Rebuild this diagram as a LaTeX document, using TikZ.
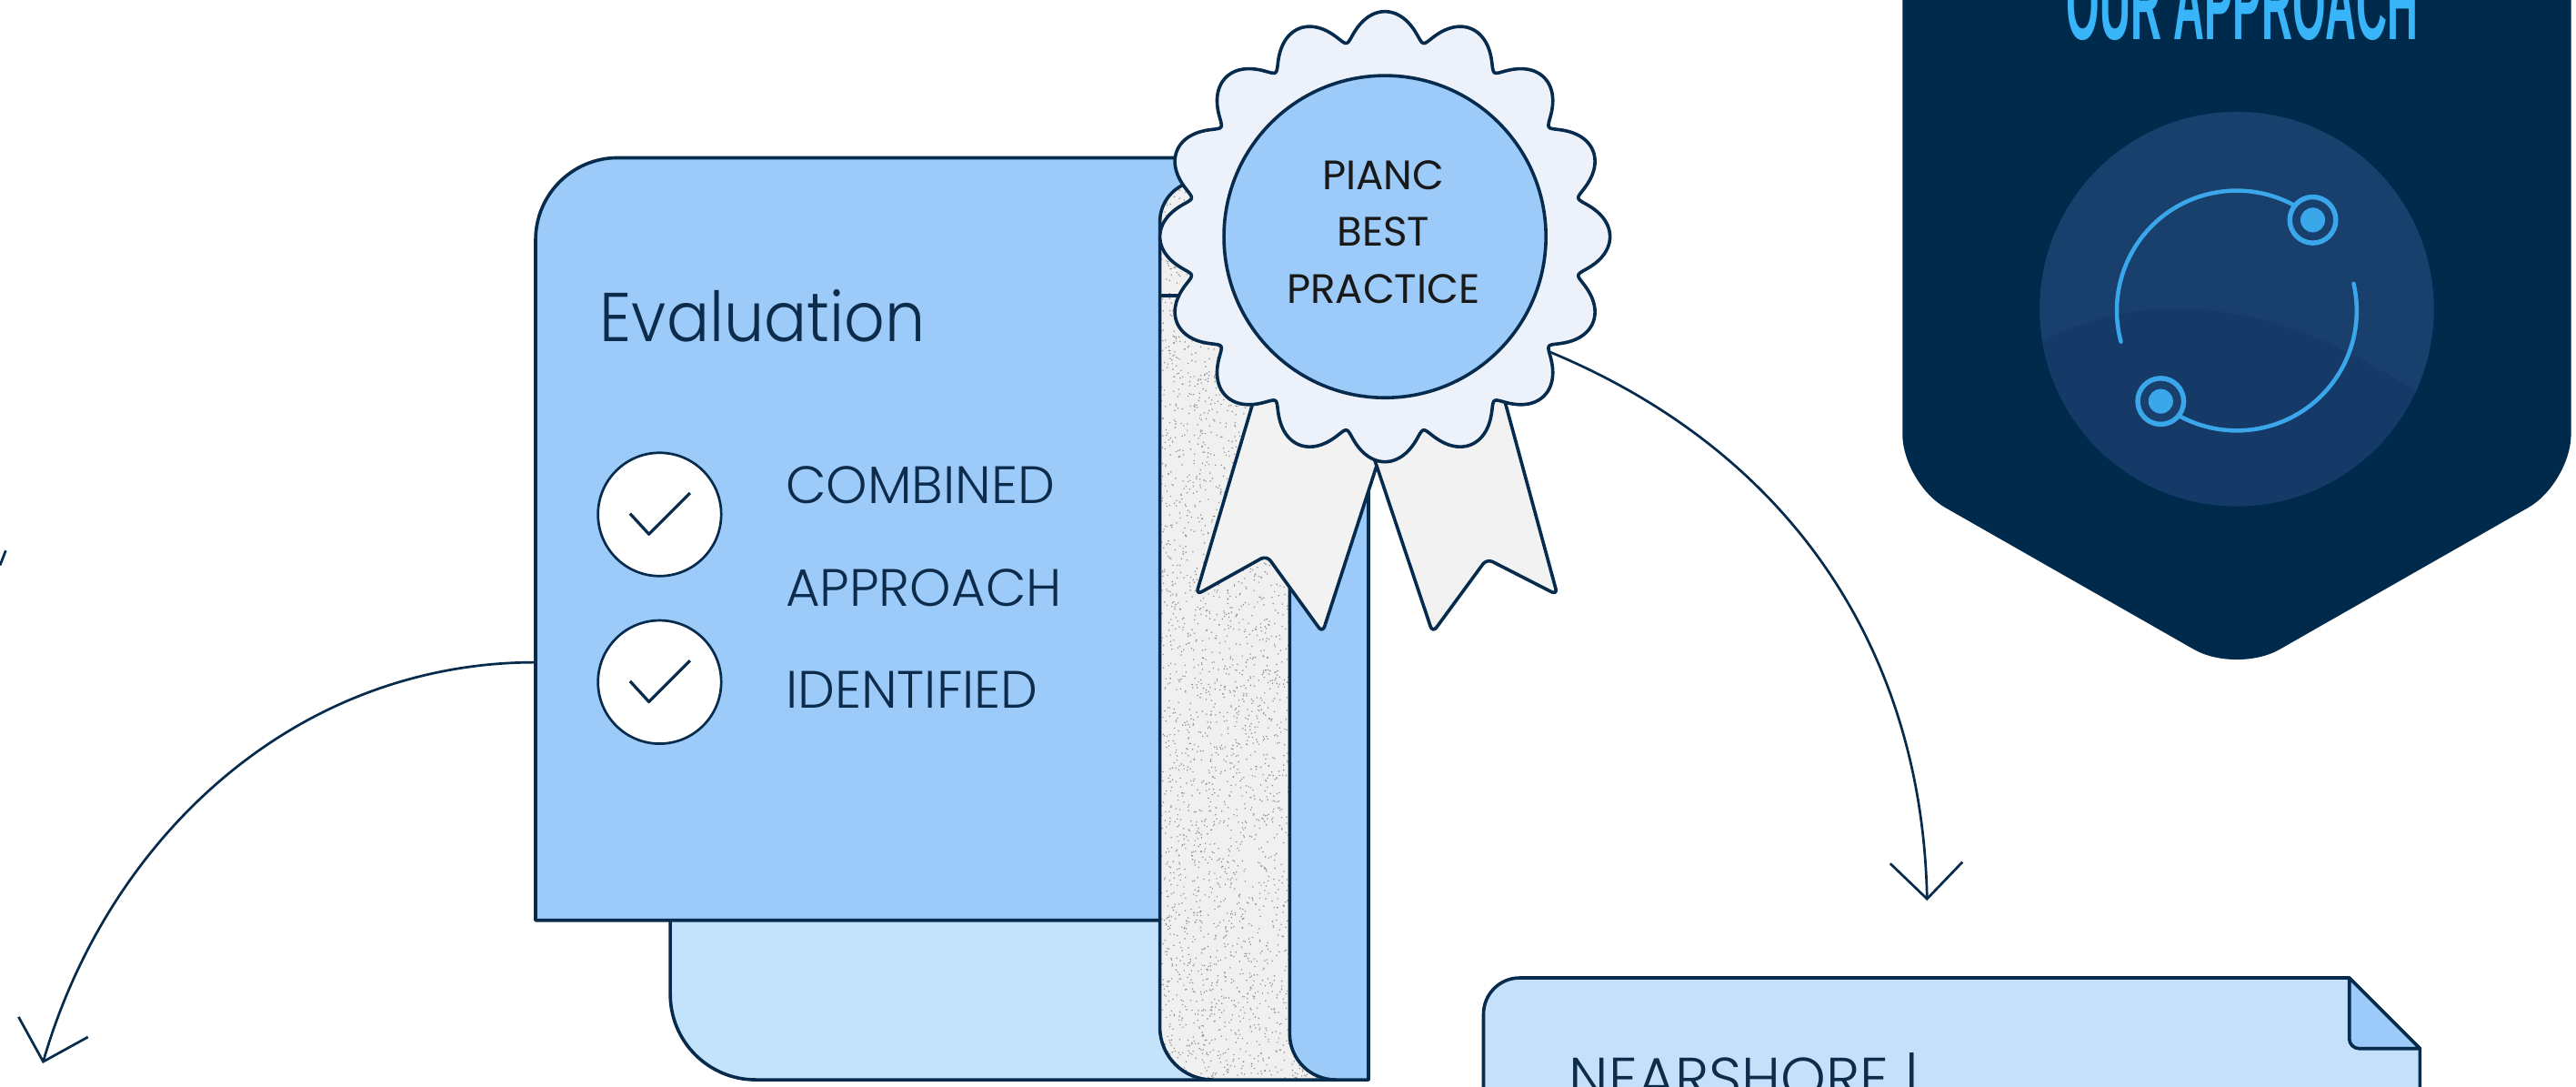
\documentclass[tikz,border=0pt]{standalone}
\usepackage{fontspec}
\setmainfont{Poppins}
\newfontfamily\geolight{Poppins Light}
\newfontfamily\headfont{Liberation Sans}
\usetikzlibrary{arrows.meta,calc}

\definecolor{navy}{HTML}{062B4D}
\definecolor{inknavy}{HTML}{0D2B4B}
\definecolor{cardblue}{HTML}{9DCBF9}
\definecolor{paleblue}{HTML}{C3E2FB}
\definecolor{notebg}{HTML}{C5E0FA}
\definecolor{sealbg}{HTML}{EDF1F9}
\definecolor{ribbon}{HTML}{F2F2F2}
\definecolor{paper}{HTML}{F0F0F0}
\definecolor{speck}{HTML}{8C8C8C}
\definecolor{shieldnavy}{HTML}{002A4B}
\definecolor{shieldcircle}{HTML}{193F6D}
\definecolor{shieldhill}{HTML}{143763}
\definecolor{iconcyan}{HTML}{3BA7EB}
\definecolor{titlecyan}{HTML}{38B4F8}

\tikzset{
  outline/.style={draw=navy, line width=2pt},
  conn/.style={draw=navy, line width=1.5pt, -{Straight Barb[length=22pt,width=44pt]}},
  checkdisc/.style={circle, draw=navy, line width=1.5pt, fill=white, minimum size=75pt, inner sep=0pt},
  tick/.style={draw=navy, line width=1.8pt},
  cardtext/.style={anchor=base west, inner sep=0pt, text=inknavy, font=\geolight\fontsize{32pt}{32pt}\selectfont},
  sealtext/.style={anchor=base, inner sep=0pt, text=black!90, font=\fontsize{25pt}{25pt}\selectfont},
  icon/.style={draw=iconcyan, line width=2.5pt, line cap=round},
}

\begin{document}
\begin{tikzpicture}[x=1pt, y=-1pt, line join=round]
\useasboundingbox (0,0) rectangle (1568,661.4);
\clip (0,0) rectangle (1568,661.4);

% ---------- shield with the cycle icon ----------
\fill[shieldnavy, rounded corners=30pt]
  (1158,-80) -- (1158,294) -- (1361.5,410) -- (1565,294) -- (1565,-80) -- cycle;
\fill[shieldcircle] (1361.5,188) circle (120pt);
\begin{scope}
  \clip (1361.5,188) circle (120pt);
  \fill[shieldhill, opacity=0.5] (1230,214) .. controls (1275,188) and (1330,178) .. (1395,200)
    .. controls (1435,214) and (1465,235) .. (1500,256) -- (1500,320) -- (1230,320) -- cycle;
\end{scope}
\node[anchor=base, inner sep=0pt, text=titlecyan] (title) at (1365,24)
  {\resizebox{214pt}{44pt}{\headfont\bfseries OUR APPROACH}};
\begin{scope}[shift={(1361.5,189)}]
  \draw[icon] (195:73pt) arc[start angle=195, end angle=62, radius=73pt];
  \draw[icon] (13:73pt) arc[start angle=13, end angle=-118, radius=73pt];
  \draw[draw=iconcyan, line width=3pt, fill=shieldcircle] (50:72pt) circle (14pt);
  \fill[iconcyan] (50:72pt) circle (7.5pt);
  \draw[draw=iconcyan, line width=3pt, fill=shieldcircle] (230:72pt) circle (14pt);
  \fill[iconcyan] (230:72pt) circle (7.5pt);
\end{scope}

% ---------- folder: back page, front card, paper edge, spine ----------
\filldraw[outline, fill=paleblue]
  (760,540) -- (408,540) -- (408,605) arc[start angle=180, end angle=270, radius=52pt]
  -- (760,657) -- cycle;
\filldraw[outline, fill=cardblue]
  (760,560) -- (326,560) -- (326,146) arc[start angle=180, end angle=90, radius=50pt]
  -- (760,96) -- cycle;

\def\paperpath{(833,657) -- (738,657) arc[start angle=270, end angle=180, radius=32pt]
  -- (706,135) arc[start angle=180, end angle=90, radius=25pt] -- (833,110) -- cycle}
\fill[paper] \paperpath;
\begin{scope}
  \clip \paperpath;
  \pgfmathsetseed{42}
  \foreach \i in {1,...,5200}{
    \fill[speck] ({706+127*rnd},{110+547*rnd}) circle (0.45pt);
  }
\end{scope}
\draw[outline] \paperpath;
\draw[outline] (706,180) -- (760,180);

\filldraw[outline, fill=cardblue]
  (833,250) -- (785,250) -- (785,629) arc[start angle=180, end angle=270, radius=28pt]
  -- (833,657) -- cycle;

% ---------- award seal ----------
\filldraw[outline, fill=ribbon, rounded corners=4pt]
  (776,200) -- (728,362) -- (771,338) -- (805,385) -- (865,200) -- cycle;
\filldraw[outline, fill=ribbon, rounded corners=4pt]
  (810,200) -- (872,385) -- (905,340) -- (948,362) -- (904,200) -- cycle;
\filldraw[outline, fill=sealbg]
  plot[domain=0:359, samples=360, smooth cycle, variable=\t]
  ({843+(128.5+8.5*cos(16*\t))*cos(\t)-4*sin(16*\t)*sin(\t)},
   {144+(128.5+8.5*cos(16*\t))*sin(\t)+4*sin(16*\t)*cos(\t)});
\node[circle, outline, fill=cardblue, minimum size=196pt, inner sep=0pt] (badge) at (843,144) {};
\node[sealtext] (pianc) at (842,115.3) {PIANC};
\node[sealtext] (best) at (842,149.6) {BEST};
\node[sealtext] (practice) at (842,184.5) {PRACTICE};

% ---------- card contents ----------
\node[anchor=base west, inner sep=0pt, text=inknavy, font=\geolight\fontsize{42pt}{42pt}\selectfont]
  (evaltitle) at (365,208) {\scalebox{0.92}[1]{Evaluation}};
\node[checkdisc] (chk1) at (401.5,313) {};
\draw[tick] ($(chk1)+(-18,-0.5)$) -- ++(11.5,12.5) -- ++(25,-25);
\node[checkdisc] (chk2) at (401.5,415) {};
\draw[tick] ($(chk2)+(-18,-0.5)$) -- ++(11.5,12.5) -- ++(25,-25);
\node[cardtext] (combined) at (478,306.5) {COMBINED};
\node[cardtext] (approach) at (478,369) {APPROACH};
\node[cardtext] (identified) at (478,431) {IDENTIFIED};

% ---------- nearshore note ----------
\filldraw[outline, fill=notebg]
  (903,700) -- (903,617) arc[start angle=180, end angle=90, radius=22pt]
  -- (1430,595) -- (1473,638) -- (1473,700) -- cycle;
\filldraw[outline, fill=cardblue]
  (1430,595) -- (1430,632) arc[start angle=180, end angle=270, radius=6pt] -- (1473,638) -- cycle;
\node[anchor=base west, inner sep=0pt, text=inknavy, font=\geolight\fontsize{35pt}{35pt}\selectfont]
  (nearshore) at (955,668.5) {NEARSHORE |};

% ---------- connectors ----------
\coordinate (cardport) at (326,403);
\coordinate (ltip) at (26,647);
\coordinate (sealout) at (943,214);
\coordinate (rtip) at (1173,548);
\coordinate (stubA) at (0,344);
\coordinate (stubB) at (3.5,335);
\draw[conn] (cardport) .. controls +(-146,0) and +(40,-138) .. (ltip);
\draw[conn] (sealout) .. controls +(152,63) and +(-3,-147) .. (rtip);
\draw[draw=navy, line width=1.5pt] (stubA) -- (stubB);
\end{tikzpicture}
\end{document}
